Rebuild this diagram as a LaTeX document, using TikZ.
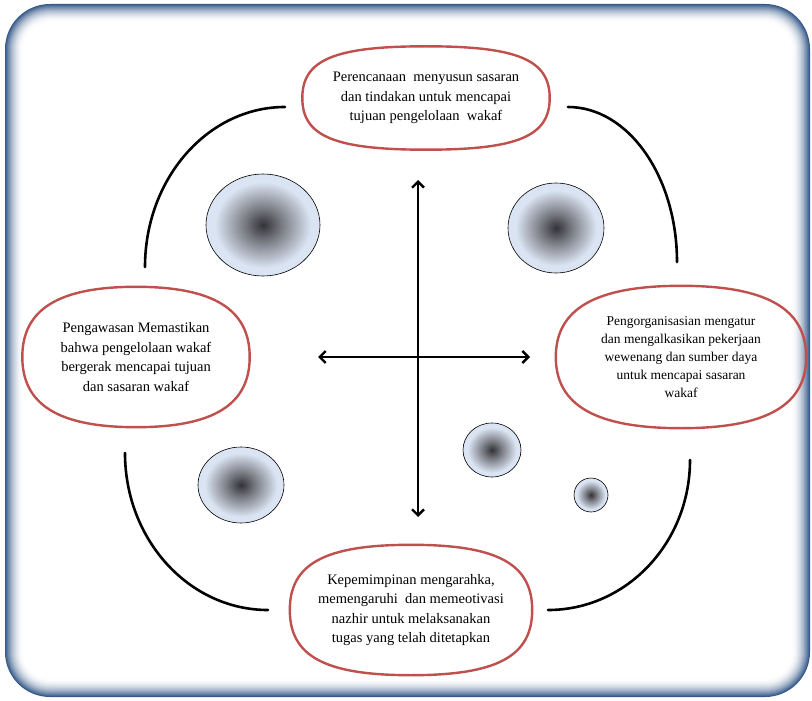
\documentclass[tikz,border=0pt]{standalone}
\usepackage{fontspec}
\setmainfont{Liberation Serif}
\usetikzlibrary{arrows.meta,calc}
\definecolor{fasered}{RGB}{192,80,77}
\definecolor{bingkai}{RGB}{52,88,135}
\definecolor{orbdark}{RGB}{50,50,54}
\definecolor{orbmid}{RGB}{120,122,130}
\definecolor{orblight}{RGB}{218,228,242}
\pgfdeclareradialshading{orb}{\pgfpoint{0bp}{0bp}}{%
	color(0bp)=(orbdark); color(8bp)=(orbmid); color(21bp)=(orblight); color(50bp)=(orblight)}
\tikzstyle{fase}=[
	rectangle,
	inner sep=0pt,
	align=center,
	font=\fontsize{14.5}{19.5}\selectfont]
\tikzstyle{garisfase}=[
	draw=fasered,
	line width=2.4pt,
	line join=round]
\tikzstyle{orbe}=[
	draw=black,
	line width=0.6pt,
	shading=orb]
\tikzstyle{busur}=[
	line width=2.6pt,
	line cap=round]
\tikzstyle{sumbu}=[
	line width=2.4pt,
	{Straight Barb[length=6pt,width=12pt]}-{Straight Barb[length=6pt,width=12pt]}]
% garis tepi lonjong di sekeliling node #1, kelengkungan #2
\newcommand{\tepifase}[2]{%
	\draw[garisfase] (#1.north)
	.. controls ($(#1.north)!#2!(#1.north east)$) and ($(#1.east)!#2!(#1.north east)$) .. (#1.east)
	.. controls ($(#1.east)!#2!(#1.south east)$) and ($(#1.south)!#2!(#1.south east)$) .. (#1.south)
	.. controls ($(#1.south)!#2!(#1.south west)$) and ($(#1.west)!#2!(#1.south west)$) .. (#1.west)
	.. controls ($(#1.west)!#2!(#1.north west)$) and ($(#1.north)!#2!(#1.north west)$) .. (#1.north) -- cycle;}

\begin{document}
\begin{tikzpicture}[x=1pt,y=-1pt]
	\useasboundingbox (0,0) rectangle (812,701);
	% bingkai biru
	\foreach \i in {0,...,20}{
		\pgfmathtruncatemacro\tono{100*(max(0,1-\i/19))^2}
		\pgfmathsetmacro\rad{45-\i}
		\fill[bingkai!\tono!white, rounded corners=\rad pt] (5+\i,4+\i) rectangle (810-\i,697-\i);
	}
	% busur
	\draw[busur] (145,267) arc[start angle=180, end angle=270, x radius=140, y radius=160];
	\draw[busur] (568,107) arc[start angle=270, end angle=360, x radius=109, y radius=155];
	\draw[busur] (125,453) arc[start angle=180, end angle=90, x radius=143, y radius=157];
	\draw[busur] (548,610) arc[start angle=90, end angle=0, x radius=142, y radius=150];
	% bola
	\path[orbe] (263,225) ellipse[x radius=57, y radius=51];
	\path[orbe] (556,228) ellipse[x radius=48, y radius=45];
	\path[orbe] (241,485) ellipse[x radius=43, y radius=38];
	\path[orbe] (492,450) ellipse[x radius=29, y radius=27];
	\path[orbe] (591,495) circle[radius=17];
	% panah
	\coordinate (atas) at (418,180);
	\coordinate (bawah) at (418,517);
	\coordinate (kiri) at (318,357);
	\coordinate (kanan) at (530,357);
	\draw[sumbu] (atas) -- (bawah);
	\draw[sumbu] (kiri) -- (kanan);
	% fungsi
	\node[fase, minimum width=247, minimum height=103] (rencana) at (426,98)
	{Perencanaan \ menyusun sasaran\\dan tindakan untuk mencapai\\tujuan pengelolaan \ wakaf};
	\node[fase, minimum width=227, minimum height=140] (awas) at (136,357)
	{Pengawasan Memastikan\\bahwa pengelolaan wakaf\\bergerak mencapai tujuan\\dan sasaran wakaf};
	\node[fase, minimum width=250, minimum height=142,
		font=\fontsize{13.5}{18}\selectfont] (organisasi) at (681,357)
	{Pengorganisasian mengatur\\dan mengalkasikan pekerjaan\\wewenang dan sumber daya\\untuk mencapai sasaran\\wakaf};
	\node[fase, minimum width=242, minimum height=130] (pimpin) at (411,610)
	{Kepemimpinan mengarahka,\\memengaruhi \ dan memeotivasi\\nazhir untuk melaksanakan\\tugas yang telah ditetapkan};
	\tepifase{rencana}{0.74}
	\tepifase{awas}{0.68}
	\tepifase{organisasi}{0.68}
	\tepifase{pimpin}{0.71}
\end{tikzpicture}
\end{document}
